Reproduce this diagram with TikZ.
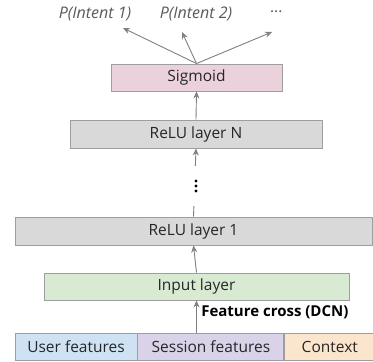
\documentclass[tikz,border=0pt]{standalone}
\usepackage{fontspec}
\setmainfont{Open Sans}
\usepackage{tikz}
\usetikzlibrary{arrows.meta,positioning}

\definecolor{boxline}{HTML}{9E9E9E}
\definecolor{arrowgray}{HTML}{808080}
\definecolor{sigpink}{HTML}{EAD1DC}
\definecolor{relugray}{HTML}{D9D9D9}
\definecolor{inpgreen}{HTML}{D9EAD3}
\definecolor{userblue}{HTML}{CFE2F3}
\definecolor{sesspurple}{HTML}{D9D2E9}
\definecolor{ctxorange}{HTML}{FCE5CD}

\begin{document}
\begin{tikzpicture}[x=1pt,y=-1pt,->,>={Stealth[length=7pt,width=6pt]},
		layer box/.style={rectangle,draw=boxline,line width=0.9pt,inner sep=0pt,text=black!85,font=\fontsize{15.5}{17}\selectfont},
		out label/.style={font=\fontsize{16}{18}\selectfont\itshape,text=black!65},
		dot/.style={circle,fill=black,inner sep=0pt,minimum size=3.2pt}]
		\useasboundingbox (0,0) rectangle (373,362);
		
		\node[layer box,fill=sigpink,minimum width=171pt,minimum height=27pt](sig) at (196.5,77.5){Sigmoid};
		\node[layer box,fill=relugray,minimum width=252pt,minimum height=28pt](relun) at (196,134){ReLU layer N};
		\node[layer box,fill=relugray,minimum width=357pt,minimum height=28pt](relu1) at (193.5,231){ReLU layer 1};
		\node[layer box,fill=inpgreen,minimum width=305pt,minimum height=27pt](inp) at (196.5,286.5){Input layer};
		
		\node[layer box,fill=userblue,minimum width=122pt,minimum height=27pt](user) at (76,346.5){User features};
		\node[layer box,fill=sesspurple,minimum width=146pt,minimum height=27pt,right=0pt of user](sess){Session features};
		\node[layer box,fill=ctxorange,minimum width=90pt,minimum height=27pt,right=0pt of sess](ctx){Context};
		
		\node[out label](p1) at (95,14){P(Intent 1)};
		\node[out label](p2) at (196,14){P(Intent 2)};
		\node[out label](pn) at (277,12){...};
		\coordinate (e1) at (123,28);
		\coordinate (e2) at (182,32);
		\coordinate (en) at (272,32);
		
		\path[color=arrowgray,line width=0.9pt]
		(sig.north) edge (e1)
		(sig.north) edge (e2)
		(sig.north) edge (en)
		(relun.north) edge (sig.south)
		(relu1.north) edge (relun.south)
		(inp.north) edge (relu1.south)
		(user.north -| inp) edge node[right=1pt,text=black,font=\fontsize{15}{17}\selectfont\bfseries,pos=0.62]{Feature cross (DCN)} (inp.south);
		
		% gap with the dots
		\node[fill=white,inner sep=0pt,minimum width=8pt,minimum height=40pt](gap) at (196,186){};
		\node[dot](d1) at (196,181){};
		\node[dot](d2) at (196,186){};
		\node[dot](d3) at (196,191){};
		
	\end{tikzpicture}
\end{document}
